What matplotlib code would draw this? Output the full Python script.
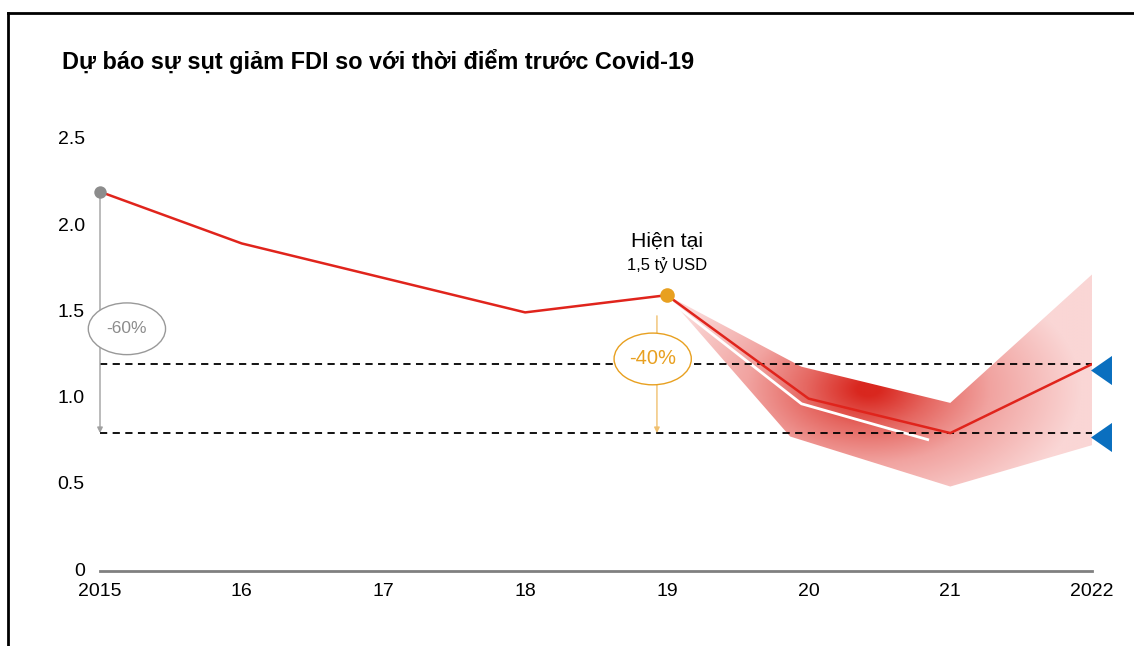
import numpy as np
import matplotlib.pyplot as plt
from matplotlib.colors import LinearSegmentedColormap
from matplotlib.patches import Polygon, Ellipse
from matplotlib.lines import Line2D

plt.rcParams['font.family'] = ['Liberation Sans', 'DejaVu Sans']

# dữ liệu
years = [2015, 2016, 2017, 2018, 2019, 2020, 2021, 2022]
fdi = [2.2, 1.9, 1.7, 1.5, 1.6, 1.0, 0.8, 1.2]
tick_labels = ['2015', '16', '17', '18', '19', '20', '21', '2022']

band_top_x = [2019, 2019.95, 2021, 2022]
band_top_y = [1.6, 1.185, 0.975, 1.72]
band_bot_x = [2019, 2019.87, 2021, 2022]
band_bot_y = [1.6, 0.78, 0.49, 0.73]

white_x = [2019, 2019.95, 2020.85]
white_y = [1.58, 0.97, 0.76]

levels = [1.2, 0.8]
marker_y = [1.165, 0.775]

red = '#e0241c'
orange = '#e8a020'
grey = '#8c8c8c'
blue = '#0a6fbf'

fig = plt.figure(figsize=(11.34, 6.46), dpi=100)
ax = fig.add_axes([100 / 1134, 75 / 646, 992 / 1134, 431 / 646])
ax.set_xlim(2015, 2022)
ax.set_ylim(0, 2.5)

# khung
fig.add_artist(Line2D([8 / 1134, 1], [1 - 13 / 646, 1 - 13 / 646], color='black', lw=2))
fig.add_artist(Line2D([8 / 1134, 8 / 1134], [0, 1 - 13 / 646], color='black', lw=2))

fig.text(62 / 1134, 1 - 61 / 646, 'Dự báo sự sụt giảm FDI so với thời điểm trước Covid-19',
         fontsize=16.9, fontweight='bold', va='center', ha='left')

# vùng dự báo với gradient
poly_xy = list(zip(band_top_x, band_top_y)) + list(zip(band_bot_x[::-1], band_bot_y[::-1]))
poly = Polygon(poly_xy, closed=True, facecolor='none', edgecolor='none')
ax.add_patch(poly)
gx = np.linspace(2019, 2022, 400)
gy = np.linspace(0.45, 1.75, 300)
GX, GY = np.meshgrid(gx, gy)
d = np.sqrt(((GX - 2020.42) / 1.5) ** 2 + ((GY - 1.05) / 0.75) ** 2)
val = np.clip(1 - d, 0, 1)
cmap = LinearSegmentedColormap.from_list(
    'band', [(0, '#fad6d5'), (0.45, '#f1a3a0'), (0.75, '#e56660'), (1, '#d9271f')])
im = ax.imshow(val, extent=[2019, 2022, 0.45, 1.75], origin='lower', cmap=cmap,
               vmin=0, vmax=0.95, aspect='auto', zorder=1, interpolation='bilinear')
im.set_clip_path(poly)

ax.plot(white_x, white_y, color='white', lw=2, zorder=2, solid_capstyle='butt')

tri = [(-0.72, 0), (0.72, -1), (0.72, 1)]
for lv, my in zip(levels, marker_y):
    ax.plot([2015, 2022], [lv, lv], color='black', lw=1.3, ls=(0, (4, 3)), zorder=3)
    ax.scatter([2022.06], [my], marker=tri, s=440, color=blue, zorder=5, clip_on=False,
               linewidths=0)

ax.plot(years, fdi, color=red, lw=1.8, zorder=4)

# mũi tên -60%
ax.annotate('', xy=(2015, levels[1]), xytext=(2015, fdi[0]),
            arrowprops=dict(arrowstyle='-|>', color='#a0a0a0', lw=1, mutation_scale=8,
                            shrinkA=0, shrinkB=0), zorder=3, annotation_clip=False)
ax.add_patch(Ellipse((2015.19, 1.405), 0.545, 0.30, facecolor='white', edgecolor='#999999',
                     lw=1, zorder=4, clip_on=False))
ax.text(2015.19, 1.405, '-60%', color='#8c8c8c', fontsize=12.5, ha='center', va='center', zorder=5)

# mũi tên -40%
ax.annotate('', xy=(2018.93, levels[1]), xytext=(2018.93, 1.48),
            arrowprops=dict(arrowstyle='-|>', color='#f0c070', lw=1, mutation_scale=8,
                            shrinkA=0, shrinkB=0), zorder=3)
ax.add_patch(Ellipse((2018.9, 1.23), 0.545, 0.30, facecolor='white', edgecolor=orange,
                     lw=1, zorder=4))
ax.text(2018.9, 1.23, '-40%', color=orange, fontsize=14.5, ha='center', va='center', zorder=5)

ax.scatter([years[0]], [fdi[0]], s=80, color=grey, zorder=6, clip_on=False, linewidths=0)
ax.scatter([years[4]], [fdi[4]], s=110, color=orange, zorder=6, linewidths=0)

ax.text(2019, 1.91, 'Hiện tại', fontsize=15.3, ha='center', va='center')
ax.text(2019, 1.775, '1,5 tỷ USD', fontsize=12, ha='center', va='center')

for s in ['top', 'right', 'left']:
    ax.spines[s].set_visible(False)
ax.spines['bottom'].set_color('#808080')
ax.spines['bottom'].set_linewidth(2)
ax.set_xticks(years)
ax.set_xticklabels(tick_labels)
ax.set_yticks([0, 0.5, 1.0, 1.5, 2.0, 2.5])
ax.set_yticklabels(['0', '0.5', '1.0', '1.5', '2.0', '2.5'])
ax.tick_params(axis='both', length=0, labelsize=14)
ax.tick_params(axis='y', pad=11)
ax.tick_params(axis='x', pad=9)
for lab in ax.get_yticklabels():
    lab.set_va('center')

fig.savefig('out.png', dpi=100)
